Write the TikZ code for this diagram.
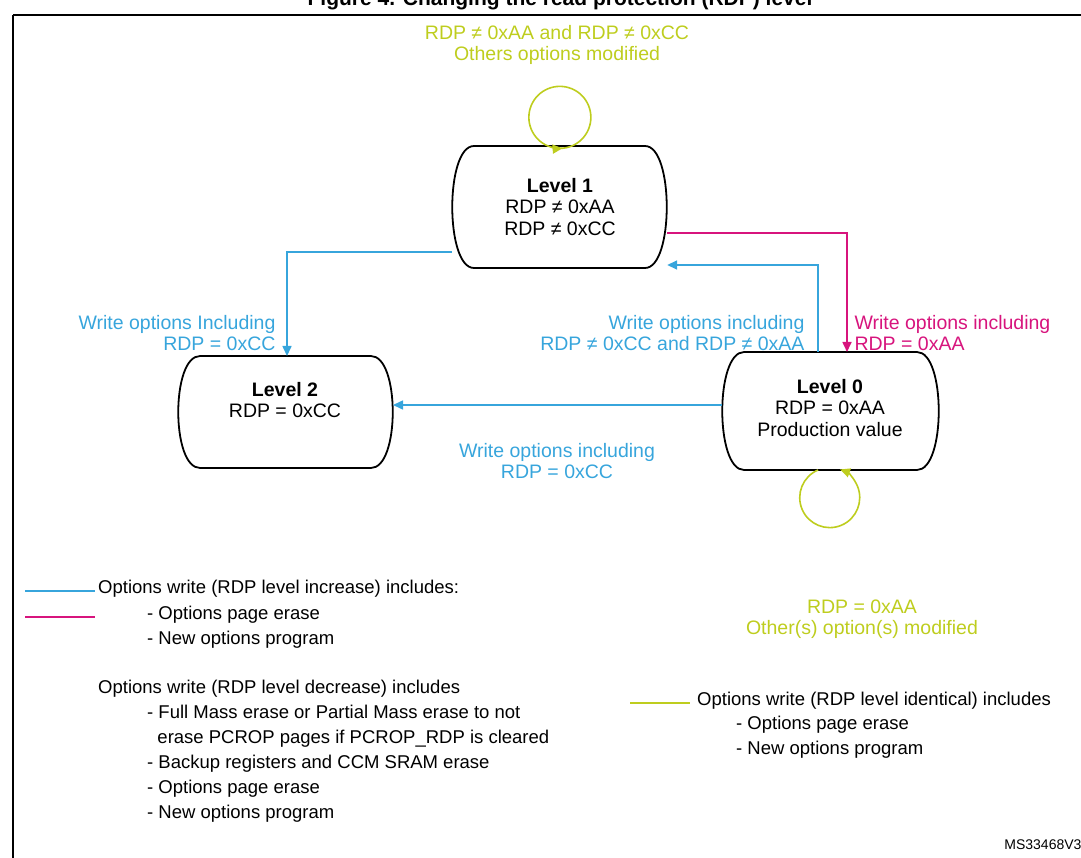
\documentclass[tikz,border=0pt]{standalone}
\usepackage{fontspec}
\setmainfont{Liberation Sans}
\usetikzlibrary{arrows.meta}
\definecolor{cblue}{RGB}{55,165,220}
\definecolor{cmag}{RGB}{215,20,125}
\definecolor{cyel}{RGB}{190,205,30}
\newcommand{\stadium}[4]{%
  \draw[line width=1.8pt,line join=round] (#1+22,#2) -- (#3-22,#2)
   .. controls (#3+7,#2) and (#3+7,#4) .. (#3-22,#4) -- (#1+22,#4)
   .. controls (#1-7,#4) and (#1-7,#2) .. (#1+22,#2) -- cycle;}
\begin{document}
\begin{tikzpicture}[x=1pt,y=-1pt,
  lbl/.style={font=\fontsize{19.5}{21.5}\selectfont,align=center},
  leg/.style={font=\fontsize{18.5}{25}\selectfont,align=left,anchor=north west,inner sep=0},
  box/.style={draw=none,inner sep=0},
  arr/.style={line width=1.6pt,-{Triangle[length=10pt,width=9pt]}}]
\useasboundingbox (0,0) rectangle (1081,858);
\clip (0,0) rectangle (1081,858);
\node[font=\bfseries\fontsize{21}{24}\selectfont] (title) at (560,0) {Figure 4. Changing the read protection (RDP) level};
\draw[line width=1.5pt] (13,15) -- (1090,15) (13,15) -- (13,870);
% states
\stadium{452}{146}{667}{268}
\node[box,minimum width=215pt,minimum height=122pt] (L1) at (559.5,207) {};
\node[lbl] (t1) at (560,207) {\textbf{Level 1}\\RDP ≠ 0xAA\\RDP ≠ 0xCC};
\stadium{178}{356}{393}{468}
\node[box,minimum width=215pt,minimum height=112pt] (L2) at (285.5,412) {};
\node[lbl] (t2) at (285,400) {\textbf{Level 2}\\RDP = 0xCC};
\stadium{722}{352}{939}{470}
\node[box,minimum width=217pt,minimum height=118pt] (L0) at (830.5,411) {};
\node[lbl] (t0) at (830,408) {\textbf{Level 0}\\RDP = 0xAA\\Production value};
% connectors
\draw[arr,cblue] (L1.west|-0,252) -- (287,252) -- (287,356);
\draw[arr,cblue] (818,352) -- (818,265) -- (L1.east|-0,265);
\draw[arr,cmag] (L1.east|-0,233) -- (847,233) -- (847,352);
\draw[arr,cblue] (L0.west|-0,405) -- (393,405);
% loops
\draw[line width=1.6pt,cyel,-{Triangle[length=10pt,width=9pt]}] (548,146) arc[start angle=112.5,end angle=-275,radius=31];
\draw[line width=1.6pt,cyel,-{Triangle[length=10pt,width=9pt]}] (818,470) arc[start angle=-113,end angle=-430,radius=30];
% labels
\node[lbl,text=cyel] (la) at (557,45) {RDP ≠ 0xAA and RDP ≠ 0xCC\\Others options modified};
\node[lbl,text=cblue,align=right,anchor=east] (lb) at (279,333) {Write options Including\\RDP = 0xCC};
\node[lbl,text=cblue,align=right,anchor=east] (lc) at (808,333) {Write options including\\RDP ≠ 0xCC and RDP ≠ 0xAA};
\node[lbl,text=cmag,align=left,anchor=west] (ld) at (851,333) {Write options including\\RDP = 0xAA};
\node[lbl,text=cblue] (le) at (557,461) {Write options including\\RDP = 0xCC};
\node[lbl,text=cyel] (lf) at (862,619) {RDP = 0xAA\\Other(s) option(s) modified};
% legend
\draw[line width=1.6pt,cblue] (25,591) -- (95,591);
\draw[line width=1.6pt,cmag] (25,617) -- (95,617);
\draw[line width=1.6pt,cyel] (630,703) -- (690,703);
\node[leg] (g1) at (98,580) {Options write (RDP level increase) includes:};
\node[leg] (g2) at (147,606) {- Options page erase\\- New options program};
\node[leg] (g3) at (98,680) {Options write (RDP level decrease) includes};
\node[leg] (g4) at (147,705) {- Full Mass erase or Partial Mass erase to not\\\ \ erase PCROP pages if PCROP\_RDP is cleared\\- Backup registers and CCM SRAM erase\\- Options page erase\\- New options program};
\node[leg] (g5) at (697,692) {Options write (RDP level identical) includes};
\node[leg] (g6) at (736,716) {- Options page erase\\- New options program};
\node[anchor=east,font=\fontsize{14}{16}\selectfont] (ms) at (1085,845) {MS33468V3};
\end{tikzpicture}
\end{document}
